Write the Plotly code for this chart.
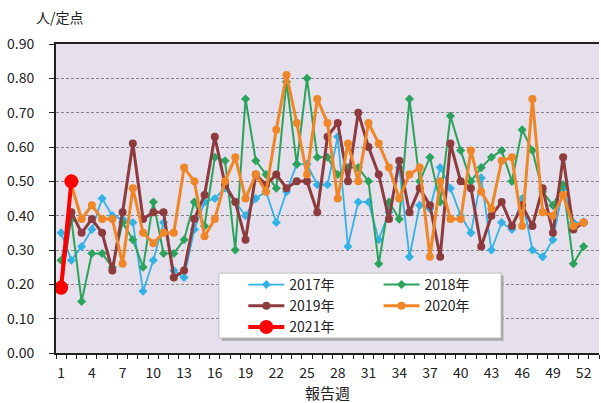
import plotly.graph_objects as go

weeks = list(range(1, 53))

y2017 = [0.35, 0.27, 0.31, 0.36, 0.45, 0.40, 0.39, 0.38, 0.18, 0.27, 0.38, 0.24, 0.22, 0.36, 0.44, 0.45,
         0.48, 0.44, 0.40, 0.45, 0.47, 0.38, 0.47, 0.55, 0.55, 0.49, 0.49, 0.63, 0.31, 0.44, 0.44, 0.33,
         0.41, 0.54, 0.28, 0.43, 0.42, 0.54, 0.48, 0.40, 0.35, 0.51, 0.30, 0.38, 0.36, 0.45, 0.30, 0.28,
         0.33, 0.48, 0.38, 0.38]
y2018 = [0.27, 0.39, 0.15, 0.29, 0.29, 0.25, 0.38, 0.33, 0.25, 0.44, 0.29, 0.29, 0.33, 0.44, 0.37, 0.57,
         0.56, 0.30, 0.74, 0.56, 0.52, 0.48, 0.79, 0.55, 0.80, 0.57, 0.57, 0.52, 0.54, 0.54, 0.50, 0.26,
         0.44, 0.39, 0.74, 0.50, 0.57, 0.44, 0.69, 0.59, 0.50, 0.54, 0.57, 0.59, 0.50, 0.65, 0.59, 0.47,
         0.43, 0.49, 0.26, 0.31]
y2019 = [0.20, 0.41, 0.35, 0.39, 0.35, 0.24, 0.41, 0.61, 0.39, 0.41, 0.41, 0.22, 0.24, 0.39, 0.46, 0.63,
         0.49, 0.44, 0.33, 0.52, 0.49, 0.52, 0.48, 0.50, 0.50, 0.41, 0.63, 0.67, 0.50, 0.70, 0.60, 0.52,
         0.39, 0.56, 0.41, 0.48, 0.43, 0.28, 0.61, 0.50, 0.48, 0.31, 0.40, 0.44, 0.37, 0.43, 0.37, 0.48,
         0.35, 0.57, 0.36, 0.38]
y2020 = [None, 0.49, 0.39, 0.43, 0.39, 0.39, 0.26, 0.48, 0.35, 0.32, 0.35, 0.35, 0.54, 0.50, 0.34, 0.39,
         0.50, 0.57, 0.45, 0.52, 0.47, 0.65, 0.81, 0.67, 0.52, 0.74, 0.67, 0.45, 0.61, 0.50, 0.67, 0.61,
         0.54, 0.45, 0.52, 0.54, 0.28, 0.50, 0.39, 0.39, 0.59, 0.47, 0.42, 0.56, 0.57, 0.37, 0.74, 0.41,
         0.40, 0.46, 0.37, 0.38]
weeks2021 = [1, 2]
y2021 = [0.19, 0.50]

xtick_vals = list(range(1, 54, 3))
ytick_vals = [0.0, 0.1, 0.2, 0.3, 0.4, 0.5, 0.6, 0.7, 0.8, 0.9]

FONT = "Noto Sans CJK JP"

fig = go.Figure()
fig.add_trace(go.Scatter(x=weeks, y=y2017, name="2017年", mode="lines+markers",
                         line=dict(color="#33B2E6", width=1.8),
                         marker=dict(symbol="diamond", size=7, color="#33B2E6"), legend="legend"))
fig.add_trace(go.Scatter(x=weeks, y=y2018, name="2018年", mode="lines+markers",
                         line=dict(color="#2BA35C", width=2),
                         marker=dict(symbol="diamond", size=7, color="#2BA35C"), legend="legend2"))
fig.add_trace(go.Scatter(x=weeks, y=y2019, name="2019年", mode="lines+markers",
                         line=dict(color="#8E3B3E", width=3),
                         marker=dict(symbol="circle", size=8, color="#8E3B3E"), legend="legend"))
fig.add_trace(go.Scatter(x=weeks, y=y2020, name="2020年", mode="lines+markers",
                         line=dict(color="#EF8628", width=3),
                         marker=dict(symbol="circle", size=8, color="#EF8628"), legend="legend2"))
fig.add_trace(go.Scatter(x=weeks2021, y=y2021, name="2021年", mode="lines+markers",
                         line=dict(color="#FF0000", width=4),
                         marker=dict(symbol="circle", size=14, color="#FF0000"), legend="legend"))

# legend frame (shadow + box)
fig.add_shape(type="rect", xref="paper", yref="paper", x0=0.305, x1=0.824, y0=0.040, y1=0.252,
              fillcolor="#a6a6a6", line=dict(width=0), layer="above")
fig.add_shape(type="rect", xref="paper", yref="paper", x0=0.300, x1=0.8195, y0=0.0485, y1=0.2585,
              fillcolor="white", line=dict(color="#bfbfbf", width=1), layer="above")

legend_common = dict(xanchor="left", yanchor="top",
                     bgcolor="rgba(0,0,0,0)", borderwidth=0, orientation="v",
                     font=dict(family=FONT, size=14, color="#222"), itemwidth=36,
                     tracegroupgap=0)
fig.update_layout(
    width=601, height=403,
    margin=dict(l=56, r=2, t=44, b=50, autoexpand=False),
    paper_bgcolor="white",
    plot_bgcolor="#E5E0EC",
    font=dict(family=FONT, size=14, color="#222"),
    showlegend=True,
    legend=dict(x=0.345, y=0.272, **legend_common),
    legend2=dict(x=0.594, y=0.272, **legend_common),
    xaxis=dict(range=[0.5, 53.5], tickmode="array", tickvals=xtick_vals, ticks="",
               showgrid=False, zeroline=False, showline=True, linecolor="#222", linewidth=2,
               mirror=True, tickfont=dict(size=14, color="#222"), ticklabelstandoff=6,
               minor=dict(tickmode="linear", tick0=0.5, dtick=1, ticks="outside", ticklen=4,
                          tickcolor="#222", tickwidth=1, showgrid=False),
               title=dict(text="報告週", font=dict(size=15), standoff=7)),
    yaxis=dict(range=[0, 0.9], tickmode="array", tickvals=ytick_vals, tickformat=".2f",
               ticks="outside", ticklen=5, tickcolor="#222", showline=True, linecolor="#222",
               linewidth=2, zeroline=False, showgrid=True, gridcolor="#858585", gridwidth=1,
               griddash="3px,2px", tickfont=dict(size=14, color="#222"), ticklabelstandoff=12),
    annotations=[dict(text="人/定点", xref="paper", yref="paper", x=-0.04, y=1.05,
                      xanchor="left", yanchor="bottom", showarrow=False,
                      font=dict(family=FONT, size=14, color="#222"))],
)

fig.write_html("out.html", config={"displayModeBar": False},
               post_script="document.body.style.margin='0';")
